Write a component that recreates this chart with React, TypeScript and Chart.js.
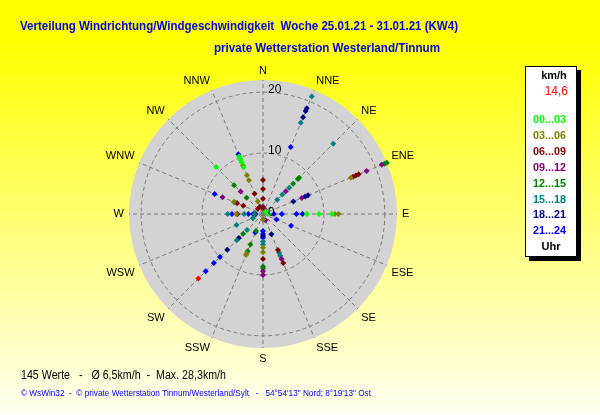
import { useEffect, useRef } from 'react';
import { Chart, registerables } from 'chart.js';

Chart.register(...registerables);

// ---------- data ----------
const directions = ['N', 'NNE', 'NE', 'ENE', 'E', 'ESE', 'SE', 'SSE', 'S', 'SSW', 'SW', 'WSW', 'W', 'WNW', 'NW', 'NNW'];
const speedMax = 22;
const tickStep = 10;

const titleMain = 'Verteilung Windrichtung/Windgeschwindigkeit  Woche 25.01.21 - 31.01.21 (KW4)';
const titleStation = 'private Wetterstation Westerland/Tinnum';
const footerStats = '145 Werte   -   Ø 6,5km/h  -  Max. 28,3km/h';
const footerCopy = '© WsWin32  -  © private Wetterstation Tinnum/Westerland/Sylt   -   54°54\'13" Nord; 8°19\'13" Ost';
const legendUnit = 'km/h';
const currentSpeed = '14,6';
const legendFooter = 'Uhr';

const timeBands = ['00...03', '03...06', '06...09', '09...12', '12...15', '15...18', '18...21', '21...24'];

// [direction, speed km/h]
const h00_03: [string, number][] = [
  ['E', 7.2], ['E', 9.2], ['E', 11.3], ['NW', 10.9], ['NNW', 10.2], ['NNW', 9.9], ['NNW', 9.6],
  ['NNW', 9.2], ['NNW', 8.3], ['E', 0.8], ['NE', 0.6],
];
const h03_06: [string, number][] = [
  ['E', 11.8], ['E', 12.4], ['ENE', 15.6], ['S', 5.5], ['S', 6.3], ['SSW', 7.0], ['SSW', 7.3],
  ['W', 4.4], ['WNW', 5.2], ['NNW', 8.6], ['NNW', 6.9], ['NNW', 6.0], ['NNW', 2.2], ['S', 0.9],
];
const h06_09: [string, number][] = [
  ['N', 5.6], ['N', 4.1], ['N', 2.5], ['N', 0.9], ['ENE', 17.0], ['ENE', 16.5], ['ENE', 16.0],
  ['SSE', 6.4], ['SSE', 8.7], ['S', 7.4], ['W', 4.2], ['WNW', 4.6], ['WNW', 3.5], ['NNW', 3.6],
  ['NNW', 1.3], ['NW', 1.2],
];
const h09_12: [string, number][] = [
  ['N', 1.2], ['NNE', 0.8], ['NE', 5.3], ['ENE', 21.1], ['ENE', 18.4], ['ENE', 6.9], ['SSE', 1.1],
  ['SSE', 8.0], ['S', 9.4], ['S', 10.0], ['WNW', 7.2], ['NW', 5.2],
];
const h12_15: [string, number][] = [
  ['NE', 8.4], ['NE', 8.1], ['NE', 7.0], ['ENE', 22.0], ['ENE', 21.6], ['S', 8.6], ['S', 8.9],
  ['SSW', 3.0], ['SSW', 5.4], ['SSW', 6.6], ['SW', 4.6], ['WNW', 5.0], ['NW', 6.7], ['NW', 3.8],
];
const h15_18: [string, number][] = [
  ['NNE', 20.9], ['NNE', 16.2], ['NE', 16.3], ['NE', 6.1], ['NE', 4.5], ['NE', 3.3], ['SSE', 6.9],
  ['SSE', 7.4], ['S', 4.5], ['S', 5.0], ['SW', 3.7], ['SW', 6.1], ['WSW', 4.7], ['WSW', 1.8],
  ['W', 5.8], ['W', 3.1], ['W', 1.4],
];
const h18_21: [string, number][] = [
  ['NNE', 18.8], ['NNE', 18.3], ['NNE', 17.2], ['ENE', 8.0], ['ENE', 7.5], ['ENE', 5.4],
  ['SSE', 3.6], ['S', 3.6], ['SW', 5.6], ['SW', 8.3], ['W', 1.6], ['W', 1.2],
];
const h21_24: [string, number][] = [
  ['NNE', 11.9], ['E', 1.8], ['E', 3.1], ['E', 5.5], ['E', 6.5], ['ESE', 2.4], ['ESE', 5.0],
  ['S', 2.8], ['S', 3.3], ['S', 3.9], ['SSW', 3.3], ['SW', 10.0], ['SW', 11.4], ['SW', 13.3],
  ['W', 5.1], ['W', 2.4], ['WNW', 8.6], ['NNW', 10.6],
];
const latest: [string, number][] = [['SW', 15.0]];

const bandSeries = [h00_03, h03_06, h06_09, h09_12, h12_15, h15_18, h18_21, h21_24];
const bandColors = ['#00ff00', '#808000', '#800000', '#800080', '#008000', '#008080', '#000080', '#0000ff'];
const latestColor = '#ff0000';

// ---------- build radar datasets (one layer per repeated direction) ----------
function layersFor(points: [string, number][], color: string, label: string) {
  const layers: (number | null)[][] = [];
  points.forEach(([dir, v]) => {
    const idx = directions.indexOf(dir);
    let layer = layers.find((l) => l[idx] === null);
    if (!layer) {
      layer = directions.map(() => null);
      layers.push(layer);
    }
    layer[idx] = v;
  });
  return layers.map((data, k) => ({
    label: `${label}-${k}`,
    data,
    showLine: false,
    fill: false,
    borderWidth: 0,
    pointStyle: 'rectRot' as const,
    pointRadius: 3,
    pointBorderWidth: 0,
    pointBackgroundColor: color,
    pointBorderColor: color,
    backgroundColor: color,
    borderColor: color,
  }));
}

const FONT = '"Liberation Sans", Arial, sans-serif';

const decorPlugin = {
  id: 'decor',
  beforeDraw(chart: any) {
    const { ctx, width, height } = chart;
    ctx.save();
    const g = ctx.createLinearGradient(0, 0, 0, height);
    g.addColorStop(0, '#ffff00');
    g.addColorStop(0.1, '#ffff00');
    g.addColorStop(1, '#fffff2');
    ctx.fillStyle = g;
    ctx.fillRect(0, 0, width, height);

    // titles
    ctx.textBaseline = 'middle';
    ctx.textAlign = 'left';
    ctx.fillStyle = '#0000ee';
    ctx.font = `bold 13px ${FONT}`;
    ctx.fillText(titleMain, 20, 26, 438);
    ctx.fillText(titleStation, 214, 48, 226);

    // footer
    ctx.fillStyle = '#000000';
    ctx.font = `12px ${FONT}`;
    ctx.fillText(footerStats, 21, 376, 205);
    ctx.fillStyle = '#0000ff';
    ctx.font = `9px ${FONT}`;
    ctx.fillText(footerCopy, 21, 394, 350);

    // legend box
    ctx.fillStyle = '#000000';
    ctx.fillRect(529, 70, 52, 191);
    ctx.fillStyle = '#ffffff';
    ctx.fillRect(525, 66, 52, 191);
    ctx.strokeStyle = '#000000';
    ctx.lineWidth = 1;
    ctx.strokeRect(525.5, 66.5, 51, 190);

    ctx.textAlign = 'center';
    ctx.fillStyle = '#000000';
    ctx.font = `bold 11px ${FONT}`;
    ctx.fillText(legendUnit, 554, 76);
    ctx.fillStyle = latestColor;
    ctx.font = `12px ${FONT}`;
    ctx.textAlign = 'right';
    ctx.fillText(currentSpeed, 568, 92);
    ctx.textAlign = 'left';
    ctx.font = `bold 11px ${FONT}`;
    timeBands.forEach((t, i) => {
      ctx.fillStyle = bandColors[i];
      ctx.fillText(t, 533, 120 + i * 15.9, 33);
    });
    ctx.textAlign = 'center';
    ctx.fillStyle = '#000000';
    ctx.fillText(legendFooter, 551, 247);
    ctx.restore();
  },
  afterDraw(chart: any) {
    const { ctx } = chart;
    const scale = chart.scales.r;
    ctx.save();
    // direction labels (same placement rules as Chart.js point labels)
    ctx.fillStyle = '#000000';
    ctx.font = `11px ${FONT}`;
    directions.forEach((d, i) => {
      const pos = scale.getPointPosition(i, scale.drawingArea + 5);
      const angle = Math.round((i * 360) / directions.length);
      ctx.textAlign = angle === 0 || angle === 180 ? 'center' : angle < 180 ? 'left' : 'right';
      ctx.textBaseline = angle === 90 || angle === 270 ? 'middle' : angle > 270 || angle < 90 ? 'bottom' : 'top';
      ctx.fillText(d, pos.x, pos.y + (ctx.textBaseline === 'bottom' ? 1 : 0));
    });
    // tick labels
    ctx.font = `12px ${FONT}`;
    ctx.textAlign = 'left';
    ctx.textBaseline = 'middle';
    scale.ticks.forEach((t: any) => {
      const r = scale.getDistanceFromCenterForValue(t.value);
      ctx.fillText(String(t.value), scale.xCenter + 5, scale.yCenter - r - (t.value === 0 ? 1 : 2));
    });
    ctx.restore();
  },
};

export default function App() {
  const ref = useRef<HTMLCanvasElement | null>(null);
  useEffect(() => {
    document.body.style.margin = '0';
    if (!ref.current) return;
    const datasets = [
      ...bandSeries.flatMap((s, i) => layersFor(s, bandColors[i], timeBands[i])),
      ...layersFor(latest, latestColor, 'latest'),
    ];
    const chart = new Chart(ref.current, {
      type: 'radar',
      data: { labels: directions, datasets: datasets as any },
      options: {
        animation: false,
        responsive: false,
        devicePixelRatio: 1,
        layout: { padding: { left: 129, right: 203, top: 80, bottom: 67 } },
        plugins: {
          legend: { display: false },
          tooltip: { enabled: false },
          title: { display: false },
        },
        scales: {
          r: {
            min: 0,
            max: speedMax,
            backgroundColor: '#d3d3d3',
            ticks: { display: false, stepSize: tickStep, includeBounds: false },
            grid: { circular: true, color: '#777777', lineWidth: 1 },
            border: { dash: [4, 3] },
            angleLines: { color: '#777777', lineWidth: 1, borderDash: [4, 3] },
            pointLabels: { display: false },
          },
        },
      } as any,
      plugins: [decorPlugin],
    });
    return () => chart.destroy();
  }, []);
  return <canvas ref={ref} width={600} height={415} style={{ display: 'block', width: 600, height: 415 }} />;
}
